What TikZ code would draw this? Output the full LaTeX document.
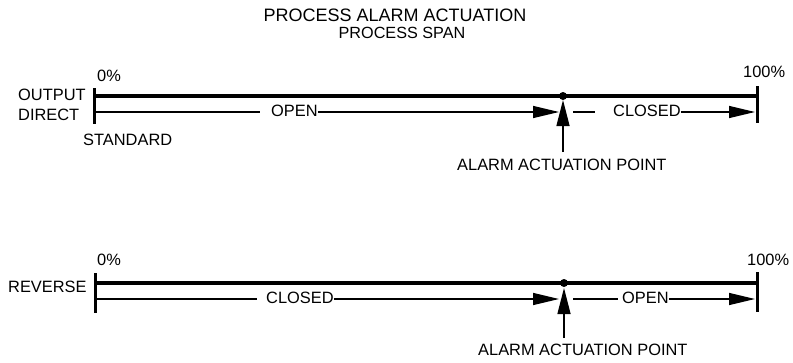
\documentclass[tikz,border=0pt]{standalone}
\usepackage{fontspec}
\setmainfont{Liberation Sans}
\usetikzlibrary{arrows.meta}

\tikzset{
  axisline/.style={line width=3.2pt},
  tickmark/.style={line width=3pt},
  thinline/.style={line width=1.4pt},
  spanarrow/.style={line width=1.4pt, -{Triangle[length=26pt,width=12pt]}},
  pointer/.style={line width=1.4pt, -{Triangle[length=26pt,width=13pt]}},
  lbl/.style={font=\fontsize{16.4}{19}\selectfont, inner sep=0pt, anchor=base west},
  title/.style={font=\fontsize{18}{21}\selectfont, inner sep=0pt, anchor=base},
  subtitle/.style={font=\fontsize{16.2}{19}\selectfont, inner sep=0pt, anchor=base},
}

\begin{document}
\begin{tikzpicture}[x=1pt,y=-1pt]
  \useasboundingbox (0,0) rectangle (793,362);

  % headings
  \node[title] (head) at (395,21) {PROCESS ALARM ACTUATION};
  \node[subtitle] (sub) at (402,38) {PROCESS SPAN};

  % ---------- direct (standard) output ----------
  \coordinate (dL) at (94,96);
  \coordinate (dR) at (757,96);
  \coordinate (dLt) at (94,88);  \coordinate (dLb) at (94,124);
  \coordinate (dRt) at (757,86); \coordinate (dRb) at (757,123);
  \draw[axisline] (dL) -- (dR);
  \draw[tickmark] (dLt) -- (dLb);
  \draw[tickmark] (dRt) -- (dRb);
  \coordinate (dDot) at (563,96);
  \fill (dDot) circle (4pt);

  \node[lbl] (dOut) at (18,100) {OUTPUT};
  \node[lbl] (dDir) at (18,120) {DIRECT};
  \node[lbl] (dStd) at (83,145) {STANDARD};
  \node[lbl] (dZero) at (97,81) {0\%};
  \node[lbl] (dFull) at (743,77) {100\%};

  \node[lbl] (dOpen) at (271,116) {OPEN};
  \node[lbl] (dClosed) at (613,116) {CLOSED};
  \coordinate (dS1) at (94,112);
  \coordinate (dT1) at (559,112);
  \coordinate (dS2) at (573,112);
  \coordinate (dT2) at (755,112);
  \draw[thinline, shorten >=11pt] (dS1) -- (dS1 -| dOpen.west);
  \draw[spanarrow] (dS1 -| dOpen.east) -- (dT1);
  \draw[thinline, shorten >=18pt] (dS2) -- (dS2 -| dClosed.west);
  \draw[spanarrow] (dS2 -| dClosed.east) -- (dT2);

  \coordinate (dPb) at (563,152);
  \coordinate (dPt) at (563,100);
  \draw[pointer] (dPb) -- (dPt);
  \node[lbl] (dAlarm) at (457,170) {ALARM ACTUATION POINT};

  % ---------- reverse output ----------
  \coordinate (rL) at (95,283);
  \coordinate (rR) at (757,283);
  \coordinate (rLt) at (95,273);  \coordinate (rLb) at (95,313);
  \coordinate (rRt) at (757,272); \coordinate (rRb) at (757,312);
  \draw[axisline] (rL) -- (rR);
  \draw[tickmark] (rLt) -- (rLb);
  \draw[tickmark] (rRt) -- (rRb);
  \coordinate (rDot) at (564,283);
  \fill (rDot) circle (4pt);

  \node[lbl] (rRev) at (8,292) {REVERSE};
  \node[lbl] (rZero) at (97,265) {0\%};
  \node[lbl] (rFull) at (747,265) {100\%};

  \node[lbl] (rClosed) at (266,303) {CLOSED};
  \node[lbl] (rOpen) at (622,303) {OPEN};
  \coordinate (rS1) at (95,299);
  \coordinate (rT1) at (559,299);
  \coordinate (rS2) at (573,299);
  \coordinate (rT2) at (755,299);
  \draw[thinline, shorten >=9pt] (rS1) -- (rS1 -| rClosed.west);
  \draw[spanarrow] (rS1 -| rClosed.east) -- (rT1);
  \draw[thinline, shorten >=4pt] (rS2) -- (rS2 -| rOpen.west);
  \draw[spanarrow] (rS2 -| rOpen.east) -- (rT2);

  \coordinate (rPb) at (564,338);
  \coordinate (rPt) at (564,288);
  \draw[pointer] (rPb) -- (rPt);
  \node[lbl] (rAlarm) at (478,355) {ALARM ACTUATION POINT};
\end{tikzpicture}
\end{document}
